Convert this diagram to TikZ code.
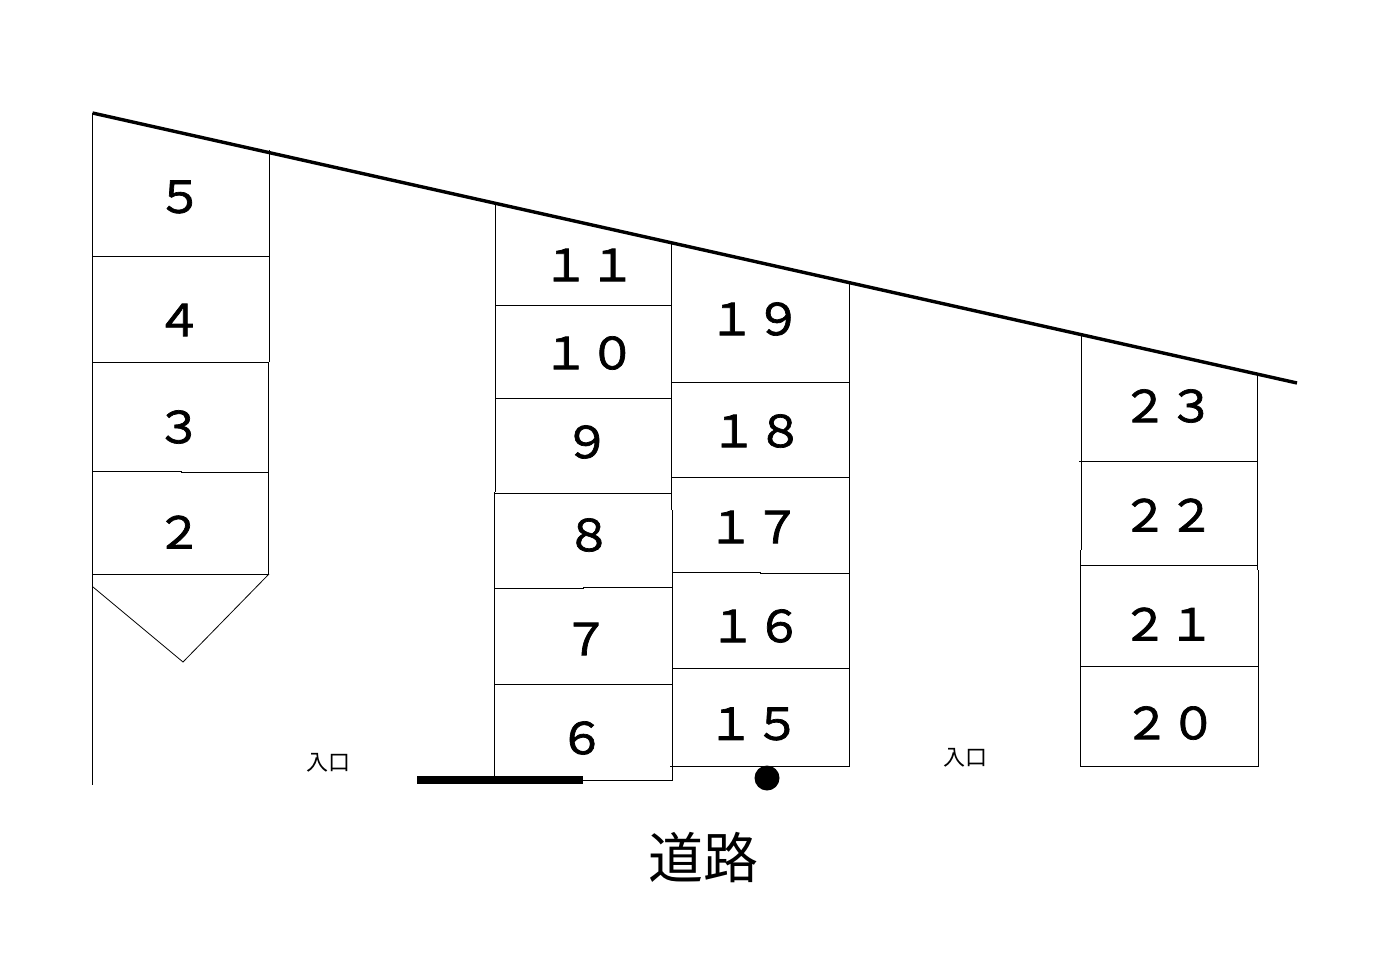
\documentclass[tikz,border=0pt]{standalone}
\usepackage{fontspec}
\setmainfont{Noto Sans CJK JP}
\newfontfamily\numfont[FakeStretch=1.06,FakeBold=1.6]{Noto Sans CJK JP}
\begin{document}
\begin{tikzpicture}[x=1pt,y=-1pt]
      \tikzstyle{every node}=[inner sep=0pt,text=black]
      \tikzstyle{lot}=[line width=1pt]
      \tikzstyle{num}=[font=\numfont\fontsize{44}{44}\selectfont]
      \useasboundingbox[fill=white] (0,0) rectangle (1376,971);

      % boundary along the top
      \coordinate (b1) at (92.5,113);
      \coordinate (b2) at (1297,383);
      \draw[line width=3.4pt] (b1) -- (b2);

      % left block
      \draw[lot] (b1) -- (92.5,785);
      \draw[lot] (269.5,150) -- (269.5,362);
      \draw[lot] (268.5,362) -- (268.5,574);
      \draw[lot] (93,256) -- (269,256);
      \draw[lot] (93,362) -- (269,362);
      \draw[lot] (93,471) -- (181,471) -- (181,472) -- (269,472);
      \draw[lot] (93,574) -- (269,574);
      \draw[line width=0.8pt] (93,587) -- (183,662) -- (269,574);
      \node[num] (n5) at (180,197) {５};
      \node[num] (n4) at (179,320) {４};
      \node[num] (n3) at (179,427) {３};
      \node[num] (n2) at (179,532) {２};

      % middle blocks
      \draw[lot] (495.5,204) -- (495.5,492);
      \draw[lot] (494.5,492) -- (494.5,776);
      \draw[lot] (583,780) -- (672.5,780) -- (672.5,510);
      \draw[lot] (671.5,510) -- (671.5,243);
      \draw[lot] (849,283) -- (849,766) -- (670,766);
      \draw[lot] (496,305) -- (671,305);
      \draw[lot] (496,398) -- (671,398);
      \draw[lot] (495,493) -- (671,493);
      \draw[lot] (495,588) -- (583,588) -- (583,587) -- (672,587);
      \draw[lot] (495,684) -- (672,684);
      \draw[lot] (671,382) -- (849,382);
      \draw[lot] (671,477) -- (849,477);
      \draw[lot] (672,572) -- (760,572) -- (760,573) -- (849,573);
      \draw[lot] (672,668) -- (849,668);
      \node[num] (n11) at (589,265) {１１};
      \node[num] (n10) at (589,353) {１０};
      \node[num] (n9) at (587,442) {９};
      \node[num] (n8) at (589,535) {８};
      \node[num] (n7) at (586,639) {７};
      \node[num] (n6) at (582,738) {６};
      \node[num] (n19) at (755,319) {１９};
      \node[num] (n18) at (757,431) {１８};
      \node[num] (n17) at (754,527) {１７};
      \node[num] (n16) at (756,626) {１６};
      \node[num] (n15) at (754,724) {１５};

      % right block
      \draw[lot] (1081.5,336) -- (1081.5,550);
      \draw[lot] (1080.5,550) -- (1080.5,766) -- (1258.5,766) -- (1258.5,570);
      \draw[lot] (1257.5,570) -- (1257.5,375);
      \draw[lot] (1079,461) -- (1257,461);
      \draw[lot] (1081,565) -- (1257,565);
      \draw[lot] (1081,666) -- (1258,666);
      \node[num] (n23) at (1168,406) {２３};
      \node[num] (n22) at (1168,515) {２２};
      \node[num] (n21) at (1168,624) {２１};
      \node[num] (n20) at (1170,723) {２０};

      % road side
      \fill (417,776) rectangle (583,784);
      \fill (767,778) circle (12.5);
      \node[font=\fontsize{22}{22}\selectfont] (in1) at (328,763) {入口};
      \node[font=\fontsize{22}{22}\selectfont] (in2) at (965,758) {入口};
      \node[font=\fontsize{55}{55}\selectfont] (road) at (703,858) {道路};
    \end{tikzpicture}
\end{document}
